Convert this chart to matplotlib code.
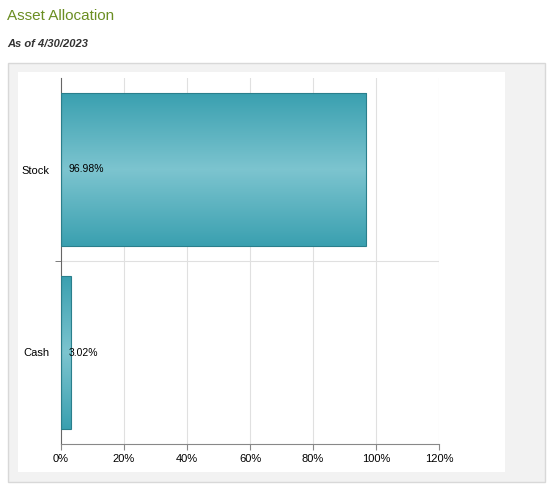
import matplotlib
matplotlib.use("Agg")
import matplotlib.pyplot as plt
import numpy as np
from matplotlib.patches import Rectangle
from matplotlib.colors import LinearSegmentedColormap

categories = ["Cash", "Stock"]
values = [3.02, 96.98]
labels = ["3.02%", "96.98%"]
xticks = [0, 20, 40, 60, 80, 100, 120]

fig = plt.figure(figsize=(5.6, 4.98), dpi=100)
fig.patch.set_facecolor("white")
fig.text(7/560, 1-16/498, "Asset Allocation", color="#6b8e23", fontsize=11, va="center", family="Liberation Sans")
fig.text(7/560, 1-44/498, "As of 4/30/2023", color="#333333", fontsize=8, fontweight="bold", style="italic", va="center", family="Liberation Sans")
fig.patches.append(Rectangle((8/560, 1-482/498), 537/560, 419/498, transform=fig.transFigure,
                             facecolor="#f2f2f2", edgecolor="#d8d8d8", lw=1, zorder=-2))
fig.patches.append(Rectangle((18/560, 1-472/498), 487/560, 400/498, transform=fig.transFigure,
                             facecolor="white", edgecolor="none", zorder=-1))

ax = fig.add_axes([61/560, 1-444/498, 378/560, 366/498])
ax.set_facecolor("none")
ax.set_xticks(xticks)
ax.set_xticklabels([f"{t}%" for t in xticks], fontsize=8, family="Liberation Sans")
ax.set_yticks(range(len(categories)))
ax.set_yticklabels(categories, fontsize=8, family="Liberation Sans")
ax.set_yticks([0.5], minor=True)
ax.tick_params(axis="y", which="major", length=0, pad=8)
ax.tick_params(axis="y", which="minor", length=4, color="#666666")
ax.tick_params(axis="x", length=4, color="#888888")
for t in xticks[1:]:
    ax.axvline(t, color="#e0e0e0", lw=0.8, zorder=0)
ax.axhline(0.5, color="#e0e0e0", lw=0.8, zorder=0)
for s in ["top", "right"]:
    ax.spines[s].set_visible(False)
ax.spines["left"].set_color("#666666")
ax.spines["bottom"].set_color("#888888")

h = 0.836
grad = np.abs(np.linspace(-1, 1, 200))[:, None]
cmap = LinearSegmentedColormap.from_list("g", ["#7cc4cf", "#3aa0b0"])
for i, v in enumerate(values):
    ax.imshow(grad, extent=(0, v, i - h/2, i + h/2), aspect="auto", cmap=cmap, zorder=2)
    ax.add_patch(Rectangle((0, i - h/2), v, h, fill=False, edgecolor="#2a7f8c", lw=0.8, zorder=3))
    ax.text(2.5, i, labels[i], fontsize=7.5, va="center", ha="left", zorder=4, family="Liberation Sans")
ax.set_xlim(0, 120)
ax.set_ylim(-0.5, 1.5)

fig.savefig("out.png", dpi=100)
